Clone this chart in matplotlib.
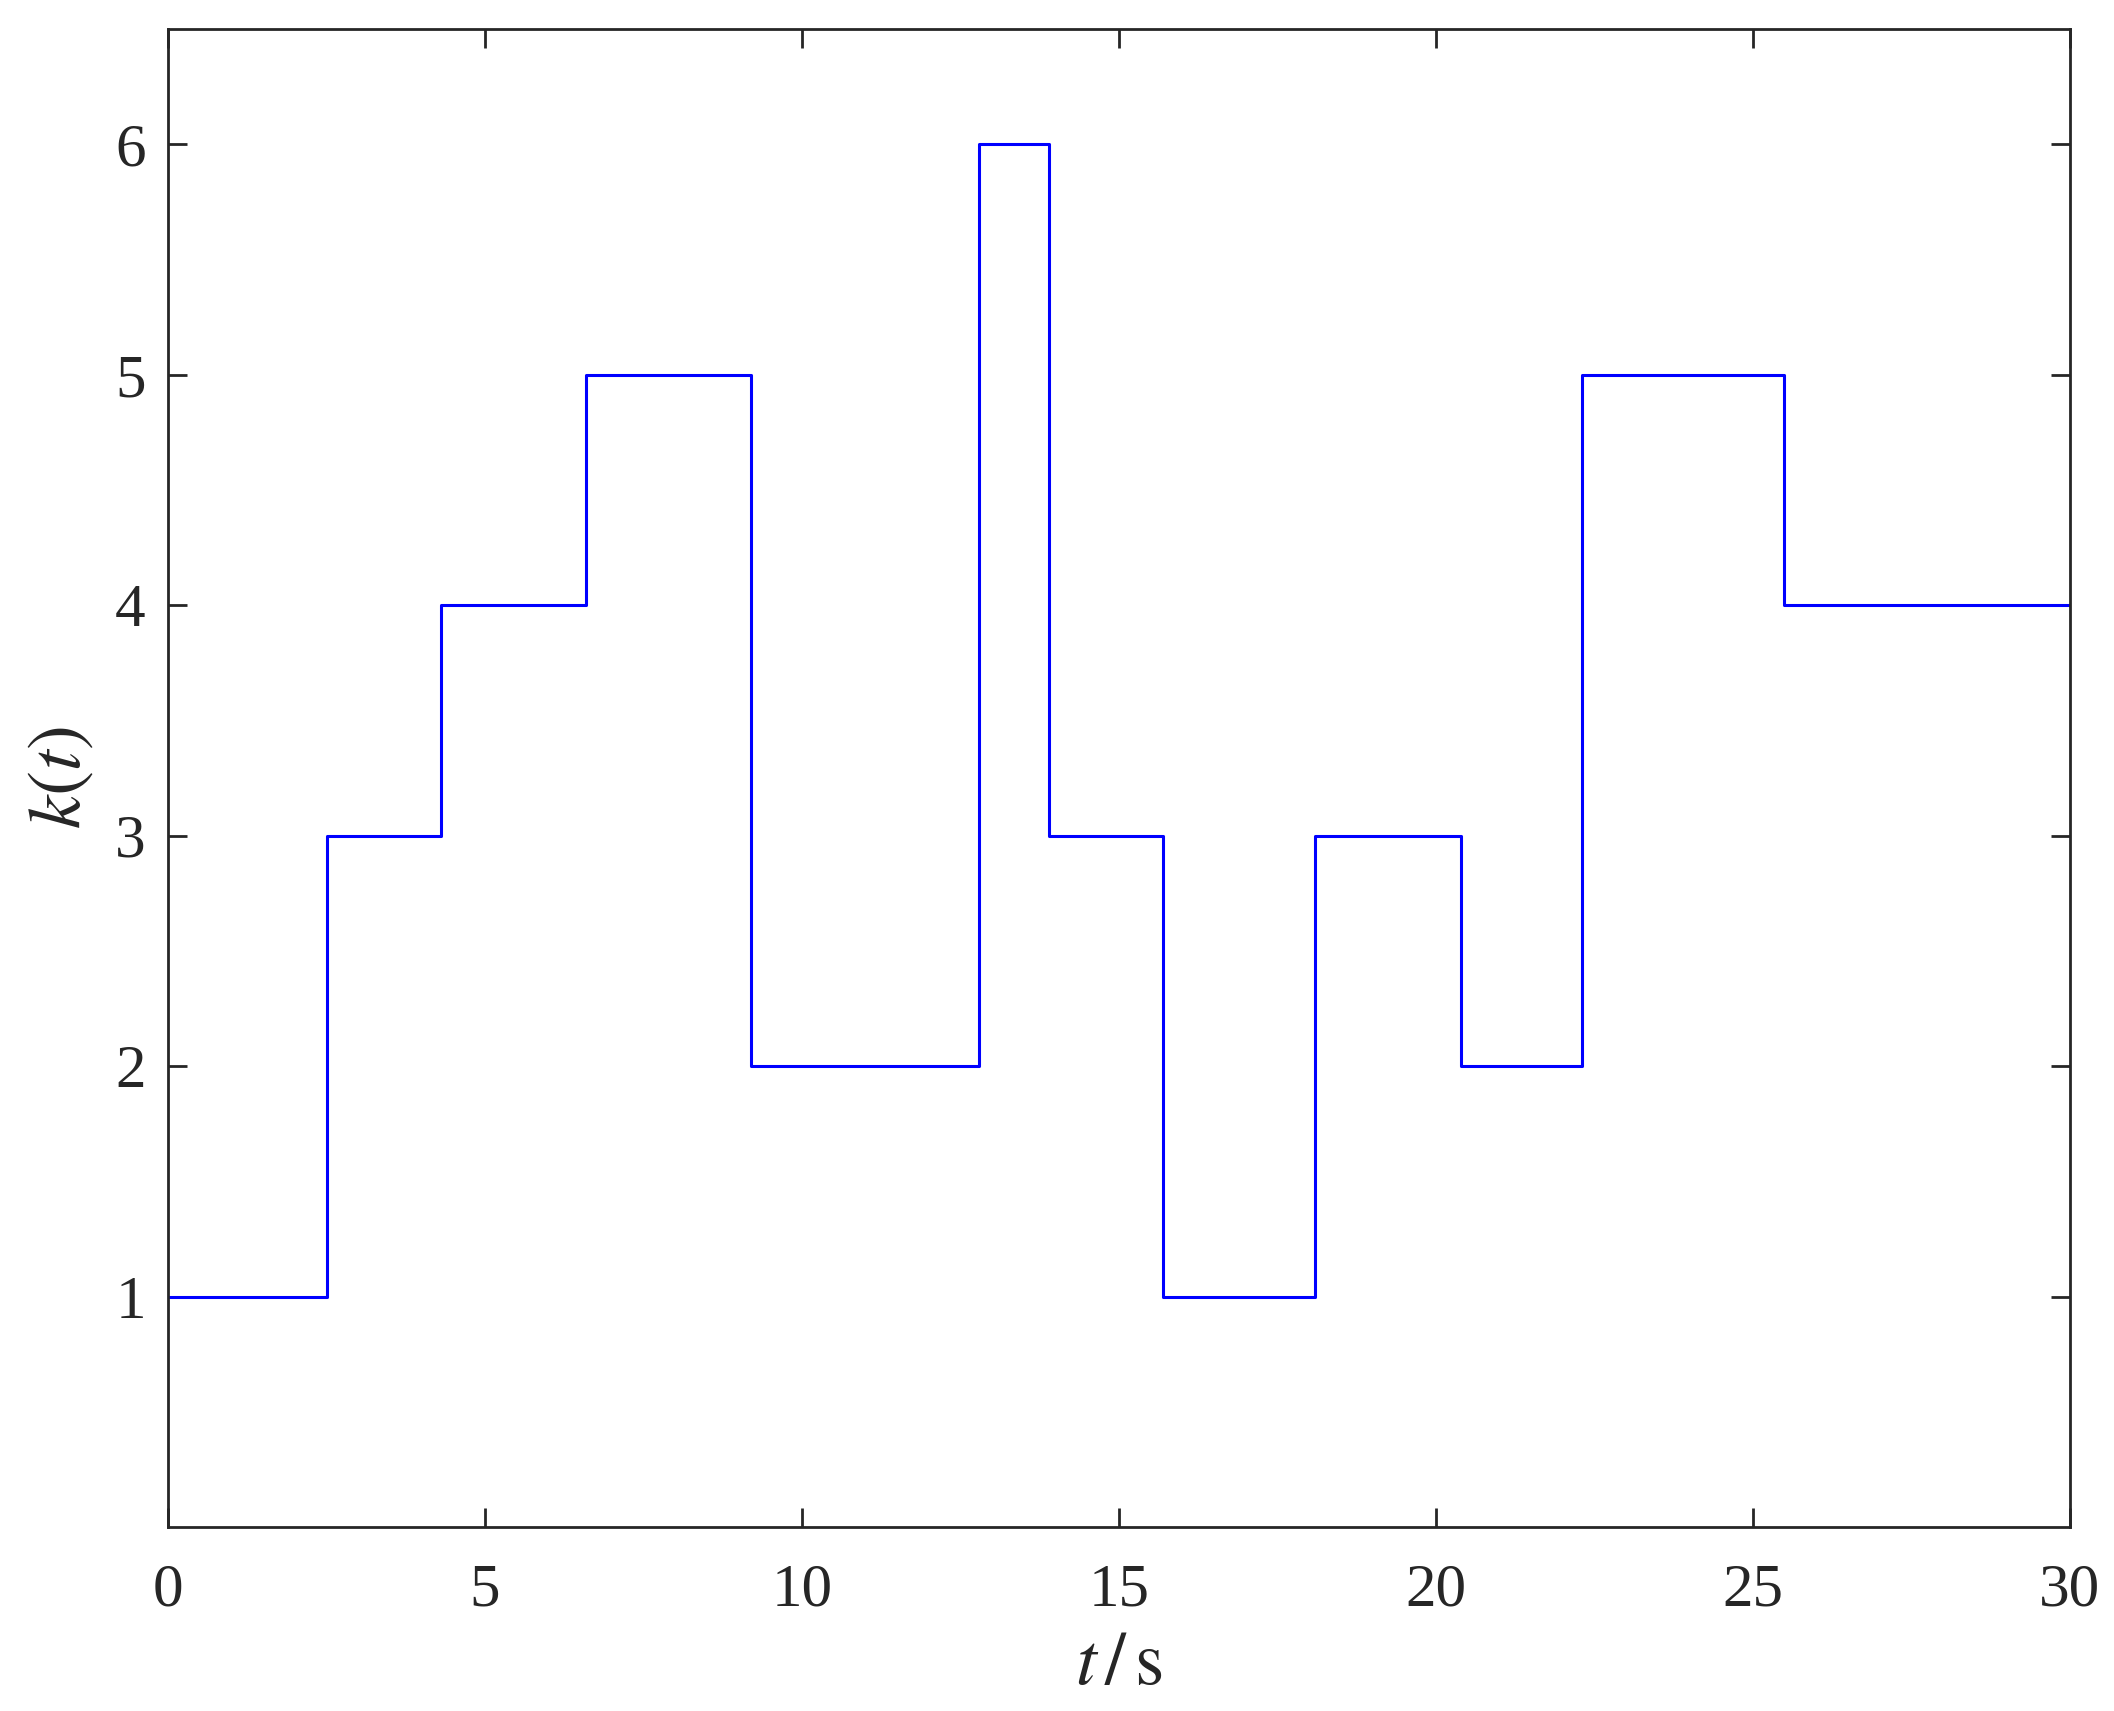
import matplotlib
matplotlib.use("Agg")
import matplotlib.pyplot as plt
import numpy as np

# switching instants (s) and the value k(t) holds from each instant on
t_switch = [0, 2.5, 4.3, 6.6, 9.2, 12.8, 13.9, 15.7, 18.1, 20.4, 22.3, 25.5, 30]
k_values = [1, 3, 4, 5, 2, 6, 3, 1, 3, 2, 5, 4, 4]

x_ticks = [0, 5, 10, 15, 20, 25, 30]
y_ticks = [1, 2, 3, 4, 5, 6]

plt.rcParams['font.family'] = ['Liberation Serif', 'DejaVu Serif']
plt.rcParams['mathtext.fontset'] = 'stix'

fig = plt.figure(figsize=(21.14, 17.11), dpi=100)
ax = fig.add_axes([0.0795, 0.1075, 0.8995, 0.8755])

ax.step(t_switch, k_values, where='post', color='#0000ff', linewidth=2.2)

ax.set_xlim(0, 30)
ax.set_ylim(0, 6.5)
ax.set_xticks(x_ticks)
ax.set_yticks(y_ticks)

for s in ax.spines.values():
    s.set_linewidth(2.0)
    s.set_color('#262626')

ax.tick_params(direction='in', length=14, width=2.0, color='#262626',
               top=True, right=True, labelsize=44, labelcolor='#262626')
ax.tick_params(axis='x', pad=26)
ax.tick_params(axis='y', pad=16)

ax.set_xlabel(r'$t\,/\,\mathrm{s}$', fontsize=54, color='#262626', labelpad=10)
ax.set_ylabel(r'$k(t)$', fontsize=54, color='#262626', labelpad=14)

fig.savefig("out.png", dpi=100, facecolor='white')
